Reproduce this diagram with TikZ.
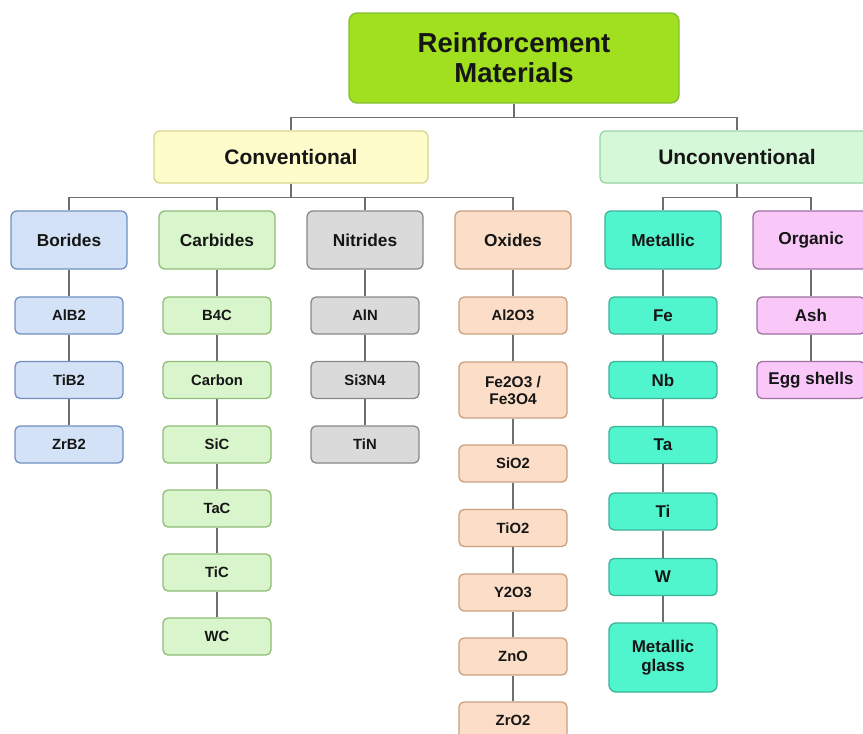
\documentclass[tikz,border=0pt]{standalone}
\usepackage{fontspec}
\setmainfont{Liberation Sans}
\definecolor{txt}{RGB}{22,22,22}
\definecolor{linec}{RGB}{110,110,110}
\definecolor{topF}{RGB}{160,224,30}\definecolor{topD}{RGB}{130,190,50}
\definecolor{convF}{RGB}{255,252,204}\definecolor{convD}{RGB}{214,214,142}
\definecolor{uncF}{RGB}{212,248,216}\definecolor{uncD}{RGB}{152,214,160}
\definecolor{borF}{RGB}{212,226,248}\definecolor{borD}{RGB}{112,144,192}
\definecolor{carF}{RGB}{216,245,204}\definecolor{carD}{RGB}{144,187,120}
\definecolor{nitF}{RGB}{218,218,218}\definecolor{nitD}{RGB}{136,136,136}
\definecolor{oxF}{RGB}{252,222,200}\definecolor{oxD}{RGB}{200,160,128}
\definecolor{metF}{RGB}{80,245,205}\definecolor{metD}{RGB}{60,179,154}
\definecolor{orgF}{RGB}{249,200,249}\definecolor{orgD}{RGB}{160,112,160}
\begin{document}
\begin{tikzpicture}[x=1pt,y=-1pt,
  box/.style={draw, rounded corners=6pt, line width=1.3pt, text=txt, align=center, inner sep=0pt, font=\bfseries},
  topbox/.style={box, minimum width=330pt, minimum height=90pt, rounded corners=8pt, font=\bfseries\fontsize{27.5}{30}\selectfont},
  midbox/.style={box, minimum width=274pt, minimum height=52pt, font=\bfseries\fontsize{21}{25}\selectfont},
  headbox/.style={box, minimum width=116pt, minimum height=58pt, font=\bfseries\fontsize{17.3}{20}\selectfont},
  leafbox/.style={box, minimum width=108pt, minimum height=37pt, rounded corners=5pt, font=\bfseries\fontsize{14.8}{17}\selectfont},
  bigleaf/.style={font=\bfseries\fontsize{17}{18.5}\selectfont},
  bor/.style={fill=borF, draw=borD}, car/.style={fill=carF, draw=carD},
  nit/.style={fill=nitF, draw=nitD}, ox/.style={fill=oxF, draw=oxD},
  met/.style={fill=metF, draw=metD}, org/.style={fill=orgF, draw=orgD},
  conn/.style={draw=linec, line width=1.3pt}]
\useasboundingbox (0,0) rectangle (863,734);
\fill[white] (0,0) rectangle (863,734);
\clip (0,0) rectangle (863,734);

% top levels
\node[topbox, fill=topF, draw=topD] (top) at (514,58) {Reinforcement\\Materials};
\node[midbox, fill=convF, draw=convD] (conv) at (291,157) {Conventional};
\node[midbox, fill=uncF, draw=uncD] (unc) at (737,157) {Unconventional};

% headers
\node[headbox, bor] (bor) at (69,240) {Borides};
\node[headbox, car] (car) at (217,240) {Carbides};
\node[headbox, nit] (nit) at (365,240) {Nitrides};
\node[headbox, ox] (ox) at (513,240) {Oxides};
\node[headbox, met] (met) at (663,240) {Metallic};
\node[headbox, org] (org) at (811,240) {Organic};

% borides
\node[leafbox, bor] (b1) at (69,315.5) {AlB2};
\node[leafbox, bor] (b2) at (69,380) {TiB2};
\node[leafbox, bor] (b3) at (69,444.5) {ZrB2};
% carbides
\node[leafbox, car] (c1) at (217,315.5) {B4C};
\node[leafbox, car] (c2) at (217,380) {Carbon};
\node[leafbox, car] (c3) at (217,444.5) {SiC};
\node[leafbox, car] (c4) at (217,508.5) {TaC};
\node[leafbox, car] (c5) at (217,572.5) {TiC};
\node[leafbox, car] (c6) at (217,636.5) {WC};
% nitrides
\node[leafbox, nit] (n1) at (365,315.5) {AlN};
\node[leafbox, nit] (n2) at (365,380) {Si3N4};
\node[leafbox, nit] (n3) at (365,444.5) {TiN};
% oxides
\node[leafbox, ox] (o1) at (513,315.5) {Al2O3};
\node[leafbox, ox, minimum height=56pt, font=\bfseries\fontsize{15.5}{17}\selectfont] (o2) at (513,390) {Fe2O3 /\\Fe3O4};
\node[leafbox, ox] (o3) at (513,463.5) {SiO2};
\node[leafbox, ox] (o4) at (513,528) {TiO2};
\node[leafbox, ox] (o5) at (513,592.5) {Y2O3};
\node[leafbox, ox] (o6) at (513,656.5) {ZnO};
\node[leafbox, ox] (o7) at (513,720.5) {ZrO2};
% metallic
\node[leafbox, met, bigleaf] (m1) at (663,315.5) {Fe};
\node[leafbox, met, bigleaf] (m2) at (663,380) {Nb};
\node[leafbox, met, bigleaf] (m3) at (663,445) {Ta};
\node[leafbox, met, bigleaf] (m4) at (663,511.5) {Ti};
\node[leafbox, met, bigleaf] (m5) at (663,577) {W};
\node[leafbox, met, bigleaf, minimum height=69pt, rounded corners=7pt] (m6) at (663,657.5) {Metallic\\glass};
% organic
\node[leafbox, org, bigleaf] (g1) at (811,315.5) {Ash};
\node[leafbox, org, bigleaf] (g2) at (811,380) {Egg shells};

% tree connectors
\draw[conn] (top.south) -- ++(0,14) -| (conv.north);
\draw[conn] (top.south) -- ++(0,14) -| (unc.north);
\foreach \h in {bor,car,nit,ox}{\draw[conn] (conv.south) -- ++(0,14) -| (\h.north);}
\foreach \h in {met,org}{\draw[conn] (unc.south) -- ++(0,14) -| (\h.north);}

% chains
\draw[conn] (bor.south) -- (b1.north) (b1.south) -- (b2.north) (b2.south) -- (b3.north);
\draw[conn] (car.south) -- (c1.north) (c1.south) -- (c2.north) (c2.south) -- (c3.north)
  (c3.south) -- (c4.north) (c4.south) -- (c5.north) (c5.south) -- (c6.north);
\draw[conn] (nit.south) -- (n1.north) (n1.south) -- (n2.north) (n2.south) -- (n3.north);
\draw[conn] (ox.south) -- (o1.north) (o1.south) -- (o2.north) (o2.south) -- (o3.north)
  (o3.south) -- (o4.north) (o4.south) -- (o5.north) (o5.south) -- (o6.north) (o6.south) -- (o7.north);
\draw[conn] (met.south) -- (m1.north) (m1.south) -- (m2.north) (m2.south) -- (m3.north)
  (m3.south) -- (m4.north) (m4.south) -- (m5.north) (m5.south) -- (m6.north);
\draw[conn] (org.south) -- (g1.north) (g1.south) -- (g2.north);
\end{tikzpicture}
\end{document}
